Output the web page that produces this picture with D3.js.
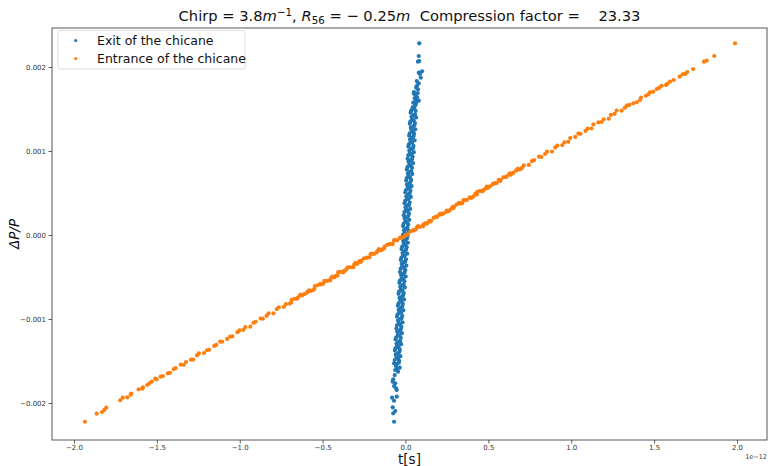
<!DOCTYPE html>
<html>
<head>
<meta charset="utf-8">
<script src="https://cdn.jsdelivr.net/npm/d3@7"></script>
<style>
  html, body { margin: 0; padding: 0; background: #fff; }
  svg { display: block; }
  text { font-family: "DejaVu Sans", sans-serif; }
</style>
</head>
<body>
<svg id="chart" width="768" height="466"></svg>
<script>
// ---- data (t in units of 1e-12 s, dP/P in units of 1e-3) ----
const seriesNames = ["Exit of the chicane", "Entrance of the chicane"];
const xTickValues = [-2.0, -1.5, -1.0, -0.5, 0.0, 0.5, 1.0, 1.5, 2.0];
const yTickValues = [-2, -1, 0, 1, 2];
const xOffsetLabel = "1e\u221212";

const exitPoints = [
[-0.038,-1.497],[-0.065,-1.489],[-0.045,-1.469],[-0.055,-1.450],[-0.031,-1.442],[-0.059,-1.422],[-0.046,-1.414],[-0.038,-1.394],[-0.064,-1.375],
[-0.034,-1.367],[-0.060,-1.347],[-0.041,-1.339],[-0.050,-1.319],[-0.027,-1.300],[-0.054,-1.292],[-0.042,-1.272],[-0.033,-1.264],[-0.060,-1.244],
[-0.029,-1.225],[-0.056,-1.217],[-0.036,-1.197],[-0.046,-1.189],[-0.022,-1.169],[-0.050,-1.150],[-0.037,-1.142],[-0.029,-1.122],[-0.055,-1.114],
[-0.025,-1.094],[-0.051,-1.075],[-0.032,-1.067],[-0.041,-1.047],[-0.018,-1.039],[-0.045,-1.019],[-0.033,-1.000],[-0.024,-0.992],[-0.051,-0.972],
[-0.020,-0.964],[-0.047,-0.944],[-0.027,-0.925],[-0.037,-0.917],[-0.013,-0.897],[-0.041,-0.889],[-0.028,-0.869],[-0.020,-0.850],[-0.046,-0.842],
[-0.016,-0.822],[-0.042,-0.814],[-0.023,-0.794],[-0.032,-0.775],[-0.009,-0.767],[-0.036,-0.747],[-0.024,-0.739],[-0.015,-0.719],[-0.042,-0.700],
[-0.011,-0.692],[-0.038,-0.672],[-0.018,-0.664],[-0.028,-0.644],[-0.004,-0.625],[-0.032,-0.617],[-0.019,-0.597],[-0.011,-0.589],[-0.037,-0.569],
[-0.007,-0.550],[-0.033,-0.542],[-0.014,-0.522],[-0.023,-0.514],[0.001,-0.494],[-0.027,-0.475],[-0.015,-0.467],[-0.006,-0.447],[-0.033,-0.439],
[-0.002,-0.419],[-0.029,-0.400],[-0.009,-0.392],[-0.019,-0.372],[0.005,-0.364],[-0.023,-0.344],[-0.010,-0.325],[-0.002,-0.317],[-0.028,-0.297],
[0.003,-0.289],[-0.024,-0.269],[-0.005,-0.250],[-0.014,-0.242],[0.010,-0.222],[-0.018,-0.214],[-0.006,-0.194],[0.003,-0.175],[-0.024,-0.167],
[0.007,-0.147],[-0.020,-0.139],[0.000,-0.119],[-0.010,-0.100],[0.014,-0.092],[-0.014,-0.072],[-0.001,-0.064],[0.008,-0.044],[-0.019,-0.025],
[0.012,-0.017],[-0.015,0.003],[0.005,0.011],[-0.005,0.031],[0.019,0.050],[-0.009,0.058],[0.004,0.078],[0.012,0.086],[-0.015,0.106],
[0.016,0.125],[-0.011,0.133],[0.009,0.153],[-0.001,0.161],[0.023,0.181],[-0.005,0.200],[0.008,0.208],[0.017,0.228],[-0.010,0.236],
[0.021,0.256],[-0.006,0.275],[0.014,0.283],[0.004,0.303],[0.028,0.311],[0.000,0.331],[0.013,0.350],[0.021,0.358],[-0.006,0.378],
[0.025,0.386],[-0.002,0.406],[0.018,0.425],[0.009,0.433],[0.032,0.453],[0.005,0.461],[0.017,0.481],[0.026,0.500],[-0.001,0.508],
[0.030,0.528],[0.003,0.536],[0.023,0.556],[0.013,0.575],[0.037,0.583],[0.009,0.603],[0.022,0.611],[0.030,0.631],[0.004,0.650],
[0.034,0.658],[0.008,0.678],[0.027,0.686],[0.018,0.706],[0.041,0.725],[0.014,0.733],[0.026,0.753],[0.035,0.761],[0.008,0.781],
[0.039,0.800],[0.012,0.808],[0.032,0.828],[0.022,0.836],[0.046,0.856],[0.018,0.875],[0.031,0.883],[0.039,0.903],[0.013,0.911],
[0.043,0.931],[0.017,0.950],[0.036,0.958],[0.027,0.978],[0.050,0.986],[0.023,1.006],[0.035,1.025],[0.044,1.033],[0.017,1.053],
[0.048,1.061],[0.021,1.081],[0.041,1.100],[0.031,1.108],[0.055,1.128],[0.027,1.136],[0.040,1.156],[0.048,1.175],[0.022,1.183],
[0.052,1.203],[0.026,1.211],[0.045,1.231],[0.036,1.250],[0.059,1.258],[0.032,1.278],[0.044,1.286],[0.053,1.306],[0.026,1.325],
[0.057,1.333],[0.030,1.353],[0.050,1.361],[0.040,1.381],[0.064,1.400],[0.036,1.408],[0.049,1.428],[0.057,1.436],[0.031,1.456],
[0.061,1.475],[0.035,1.483],[0.054,1.503],
// upper tail
[0.083,2.282],[0.080,2.131],[0.075,2.063],[0.083,2.071],[0.100,1.949],[0.080,1.932],[0.087,1.917],[0.092,1.873],[0.068,1.833],
[0.080,1.806],[0.075,1.734],[0.051,1.702],[0.059,1.663],[0.056,1.627],[0.068,1.587],[0.080,1.599],[0.043,1.520],[0.059,1.544],
[0.062,1.560],[0.047,1.575],[0.070,1.640],[0.050,1.685],[0.064,1.755],[0.070,1.780],[0.060,1.610],[0.074,1.690],
// lower tail
[-0.069,-1.527],[-0.053,-1.536],[-0.062,-1.607],[-0.045,-1.627],[-0.065,-1.667],[-0.074,-1.718],[-0.077,-1.746],[-0.062,-1.765],
[-0.069,-1.798],[-0.057,-1.825],[-0.053,-1.845],[-0.081,-1.937],[-0.069,-1.973],[-0.053,-1.925],[-0.077,-2.051],[-0.062,-2.095],
[-0.074,-2.123],[-0.069,-2.223],[-0.040,-1.520],[-0.058,-1.560],[-0.035,-1.580],[-0.050,-1.590]
];

const entrancePoints = [
// lower tail
[-1.934,-2.223],[-1.863,-2.127],[-1.831,-2.107],[-1.817,-2.083],[-1.805,-2.056],[-1.721,-1.968],[-1.706,-1.937],[-1.678,-1.932],
[-1.658,-1.901],[-1.654,-1.889],[-1.610,-1.837],[-1.588,-1.830],[-1.584,-1.813],[-1.558,-1.786],[-1.546,-1.765],[-1.531,-1.746],
[-1.510,-1.711],[-1.501,-1.718],
// core
[-1.477,-1.685],[-1.464,-1.680],[-1.434,-1.647],[-1.421,-1.641],[-1.398,-1.596],[-1.386,-1.584],[-1.356,-1.544],[-1.337,-1.546],
[-1.324,-1.512],[-1.294,-1.484],[-1.281,-1.483],[-1.258,-1.432],[-1.246,-1.410],[-1.216,-1.405],[-1.197,-1.372],[-1.184,-1.366],
[-1.154,-1.321],[-1.141,-1.308],[-1.118,-1.269],[-1.106,-1.271],[-1.076,-1.237],[-1.057,-1.209],[-1.044,-1.208],[-1.014,-1.157],
[-1.001,-1.135],[-0.978,-1.130],[-0.966,-1.097],[-0.936,-1.091],[-0.917,-1.046],[-0.904,-1.033],[-0.874,-0.994],[-0.861,-0.996],
[-0.838,-0.962],[-0.826,-0.934],[-0.796,-0.933],[-0.777,-0.882],[-0.764,-0.860],[-0.734,-0.855],[-0.721,-0.822],[-0.698,-0.816],
[-0.686,-0.771],[-0.656,-0.758],[-0.637,-0.718],[-0.624,-0.721],[-0.594,-0.687],[-0.581,-0.659],[-0.558,-0.658],[-0.546,-0.607],
[-0.516,-0.585],[-0.497,-0.580],[-0.484,-0.547],[-0.454,-0.541],[-0.441,-0.496],[-0.418,-0.483],[-0.406,-0.443],[-0.376,-0.446],
[-0.357,-0.412],[-0.344,-0.384],[-0.314,-0.383],[-0.301,-0.332],[-0.278,-0.310],[-0.266,-0.305],[-0.236,-0.272],[-0.217,-0.266],
[-0.204,-0.221],[-0.174,-0.208],[-0.161,-0.168],[-0.138,-0.170],[-0.126,-0.137],[-0.096,-0.109],[-0.077,-0.108],[-0.064,-0.057],
[-0.034,-0.035],[-0.021,-0.030],[0.002,0.003],[0.014,0.009],[0.044,0.054],[0.063,0.067],[0.076,0.107],[0.106,0.105],
[0.119,0.139],[0.142,0.166],[0.154,0.167],[0.184,0.218],[0.203,0.240],[0.216,0.245],[0.246,0.278],[0.259,0.284],
[0.282,0.329],[0.294,0.342],[0.324,0.382],[0.343,0.380],[0.356,0.414],[0.386,0.442],[0.399,0.442],[0.422,0.493],
[0.434,0.515],[0.464,0.520],[0.483,0.553],[0.496,0.559],[0.526,0.604],[0.539,0.617],[0.562,0.657],[0.574,0.655],
[0.604,0.689],[0.623,0.717],[0.636,0.717],[0.666,0.768],[0.679,0.790],[0.702,0.795],[0.714,0.828],[0.744,0.834],
[0.763,0.879],[0.776,0.892],[0.806,0.932],[0.819,0.930],[0.842,0.964],[0.854,0.992],[0.884,0.993],[0.903,1.043],
[0.916,1.065],[0.946,1.070],[0.959,1.103],[0.982,1.109],[0.994,1.154],[1.024,1.167],[1.043,1.207],[1.056,1.205],
[1.086,1.239],[1.099,1.267],[1.122,1.268],[1.134,1.318],[1.164,1.340],[1.183,1.345],[1.196,1.378],[1.226,1.384],
[1.239,1.429],[1.262,1.442],[1.274,1.482],[1.304,1.480],[1.323,1.514],
// core, second pass
[-0.69,-0.803],[-0.67,-0.759],[-0.65,-0.749],[-0.63,-0.709],[-0.61,-0.705],[-0.59,-0.674],[-0.57,-0.664],[-0.55,-0.642],
[-0.53,-0.598],[-0.51,-0.589],[-0.49,-0.549],[-0.47,-0.545],[-0.45,-0.514],[-0.43,-0.504],[-0.41,-0.482],[-0.39,-0.438],
[-0.37,-0.428],[-0.35,-0.388],[-0.33,-0.384],[-0.31,-0.353],[-0.29,-0.343],[-0.27,-0.321],[-0.25,-0.278],[-0.23,-0.268],
[-0.21,-0.228],[-0.19,-0.224],[-0.17,-0.193],[-0.15,-0.183],[-0.13,-0.161],[-0.11,-0.117],[-0.09,-0.107],[-0.07,-0.067],
[-0.05,-0.063],[-0.03,-0.032],[-0.01,-0.022],[0.01,-0.001],[0.03,0.043],[0.05,0.053],[0.07,0.093],[0.09,0.097],
[0.11,0.128],[0.13,0.138],[0.15,0.160],[0.17,0.204],[0.19,0.214],[0.21,0.254],[0.23,0.258],[0.25,0.289],
[0.27,0.298],[0.29,0.320],[0.31,0.364],[0.33,0.374],[0.35,0.414],[0.37,0.418],[0.39,0.449],[0.41,0.459],
[0.43,0.481],[0.45,0.525],[0.47,0.535],[0.49,0.575],[0.51,0.579],[0.53,0.609],[0.55,0.619],[0.57,0.641],
[0.59,0.685],[0.61,0.695],[0.63,0.735],[0.65,0.739],[0.67,0.770],[0.69,0.780],
// upper tail
[1.988,2.282],[1.863,2.131],[1.817,2.075],[1.801,2.063],[1.735,1.975],[1.700,1.940],[1.688,1.917],[1.672,1.913],
[1.654,1.885],[1.618,1.845],[1.596,1.825],[1.579,1.798],[1.572,1.786],[1.546,1.777],[1.531,1.754],[1.516,1.738],
[1.495,1.706],[1.475,1.699],[1.465,1.675],[1.451,1.658],[1.421,1.635],[1.415,1.607],[1.395,1.580],[1.374,1.568],
[1.350,1.548],[1.335,1.539]
];

// ---- layout / style ----
const W = 768, H = 466;
const plot = { left: 52, right: 767, top: 28, bottom: 440 };
const xDomain = [-2.1327, 2.1810];
const yDomain = [-2.4405, 2.4643];
const colors = ["#1f77b4", "#ff7f0e"];

const svg = d3.select("#chart");

const x = d3.scaleLinear().domain(xDomain).range([plot.left, plot.right]);
const y = d3.scaleLinear().domain(yDomain).range([plot.bottom, plot.top]);

const fmtMinus = s => s.replace("-", "\u2212");

// points
const clipId = "plotclip";
svg.append("clipPath").attr("id", clipId).append("rect")
  .attr("x", plot.left).attr("y", plot.top)
  .attr("width", plot.right - plot.left).attr("height", plot.bottom - plot.top);

const pts = svg.append("g").attr("clip-path", `url(#${clipId})`);
[exitPoints, entrancePoints].forEach((data, i) => {
  pts.append("g").selectAll("circle").data(data).join("circle")
    .attr("cx", d => x(d[0]))
    .attr("cy", d => y(d[1]))
    .attr("r", 2.1)
    .attr("fill", colors[i]);
});

// axes
const xAxis = d3.axisBottom(x).tickValues(xTickValues)
  .tickFormat(v => fmtMinus(d3.format(".1f")(v))).tickSize(3.5).tickPadding(2);
const yAxis = d3.axisLeft(y).tickValues(yTickValues)
  .tickFormat(v => fmtMinus(d3.format(".3f")(v * 1e-3))).tickSize(3.5).tickPadding(2.5);

const gx = svg.append("g").attr("transform", `translate(0,${plot.bottom})`).call(xAxis);
const gy = svg.append("g").attr("transform", `translate(${plot.left},0)`).call(yAxis);
[gx, gy].forEach(g => {
  g.select(".domain").remove();
  g.selectAll(".tick line").attr("stroke", "#333").attr("stroke-width", 0.8);
  g.selectAll(".tick text").attr("fill", "#333").style("font-size", "7px")
    .style("font-family", "DejaVu Sans, sans-serif");
});

// frame
svg.append("rect")
  .attr("x", plot.left).attr("y", plot.top)
  .attr("width", plot.right - plot.left).attr("height", plot.bottom - plot.top)
  .attr("fill", "none").attr("stroke", "#444").attr("stroke-width", 0.9);

// offset text
svg.append("text").attr("x", plot.right).attr("y", 459)
  .attr("text-anchor", "end").style("font-size", "6.5px").attr("fill", "#333")
  .text(xOffsetLabel);

// axis labels
svg.append("text").attr("x", (plot.left + plot.right) / 2).attr("y", 464)
  .attr("text-anchor", "middle").style("font-size", "13.5px").attr("fill", "#111")
  .text("t[s]");

svg.append("text")
  .attr("transform", `translate(19,${(plot.top + plot.bottom) / 2}) rotate(-90)`)
  .attr("text-anchor", "middle").style("font-size", "13.5px").style("font-style", "italic")
  .attr("fill", "#111")
  .text("\u0394P/P");

// title
const title = svg.append("text")
  .attr("x", (plot.left + plot.right) / 2).attr("y", 21)
  .attr("text-anchor", "middle").style("font-size", "14.7px").attr("fill", "#111")
  .style("white-space", "pre").attr("xml:space", "preserve");
title.append("tspan").text("Chirp = 3.8");
title.append("tspan").style("font-style", "italic").text("m");
title.append("tspan").attr("dy", -5.5).style("font-size", "10.3px").text("\u22121");
title.append("tspan").attr("dy", 5.5).text(", ");
title.append("tspan").style("font-style", "italic").text("R");
title.append("tspan").attr("dy", 3).style("font-size", "10.3px").text("56");
title.append("tspan").attr("dy", -3).text(" = \u2212 0.25");
title.append("tspan").style("font-style", "italic").text("m");
title.append("tspan").text("  Compression factor =    23.33");

// legend
const lg = svg.append("g");
lg.append("rect").attr("x", 58).attr("y", 30.5).attr("width", 187).attr("height", 38.5)
  .attr("rx", 2.5).attr("fill", "#fff").attr("fill-opacity", 0.8)
  .attr("stroke", "#d5d5d5").attr("stroke-width", 0.8);
seriesNames.forEach((name, i) => {
  const yy = 40.5 + i * 18;
  lg.append("circle").attr("cx", 75.7).attr("cy", yy).attr("r", 1.6).attr("fill", colors[i]);
  lg.append("text").attr("x", 97).attr("y", yy + 4.5)
    .style("font-size", "12.5px").attr("fill", "#111").text(name);
});
</script>
</body>
</html>
